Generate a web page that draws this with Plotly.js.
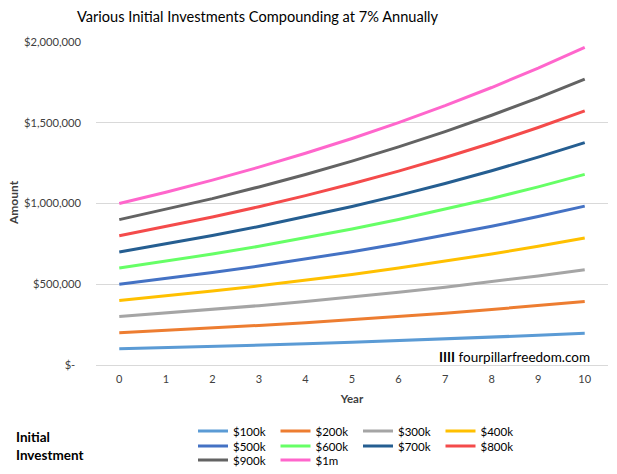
<!DOCTYPE html>
<html>
<head>
<meta charset="utf-8">
<script src="https://cdn.plot.ly/plotly-3.0.1.min.js"></script>
<style>html,body{margin:0;padding:0;background:#fff;}#chart{width:617px;height:474px;}</style>
</head>
<body>
<div id="chart"></div>
<script>
const years = [0,1,2,3,4,5,6,7,8,9,10];
const seriesNames = ["$100k","$200k","$300k","$400k","$500k","$600k","$700k","$800k","$900k","$1m"];
const s100k = [100000,107000,114490,122504,131080,140255,150073,160578,171819,183846,196715];
const s200k = [200000,214000,228980,245009,262159,280510,300146,321156,343637,367692,393430];
const s300k = [300000,321000,343470,367513,393239,420766,450219,481734,515456,551538,590145];
const s400k = [400000,428000,457960,490017,524318,561021,600292,642313,687274,735384,786861];
const s500k = [500000,535000,572450,612522,655398,701276,750365,802891,859093,919230,983576];
const s600k = [600000,642000,686940,735026,786478,841531,900438,963469,1030912,1103076,1180291];
const s700k = [700000,749000,801430,857530,917557,981786,1050511,1124047,1202730,1286921,1377006];
const s800k = [800000,856000,915920,980034,1048637,1122041,1200584,1284625,1374549,1470767,1573721];
const s900k = [900000,963000,1030410,1102539,1179716,1262297,1350657,1445203,1546368,1654613,1770436];
const s1m   = [1000000,1070000,1144900,1225043,1310796,1402552,1500730,1605781,1718186,1838459,1967151];
const seriesValues = [s100k,s200k,s300k,s400k,s500k,s600k,s700k,s800k,s900k,s1m];
const colors = ["#5B9BD5","#ED7D31","#A5A5A5","#FFC000","#4472C4","#66FF66","#255E91","#F44B4B","#636363","#FF66CC"];
const yTickVals = [0,500000,1000000,1500000,2000000];
const yTickText = ["$-\u00A0\u00A0","$500,000","$1,000,000","$1,500,000","$2,000,000"];

const FONT = "Lato, 'Open Sans', sans-serif";
const legendIds = ['legend','legend','legend','legend','legend2','legend2','legend2','legend2','legend3','legend3'];
const traces = seriesNames.map((n,i)=>({
  x: years, y: seriesValues[i], name: n, type: 'scatter', mode: 'lines',
  line: {color: colors[i], width: 3}, legend: legendIds[i]
}));

function legendAt(yPx) {
  return {
    orientation: 'h', xref: 'container', yref: 'container',
    x: 193/617, xanchor: 'left', y: 1 - yPx/474, yanchor: 'middle',
    entrywidth: 37.5, entrywidthmode: 'pixels', traceorder: 'normal',
    font: {family: FONT, size: 11.5, color: '#000'}, bgcolor: 'rgba(0,0,0,0)', borderwidth: 0
  };
}

const layout = {
  width: 617, height: 474,
  margin: {l: 96, r: 9, t: 42, b: 109},
  paper_bgcolor: '#fff', plot_bgcolor: '#fff',
  font: {family: FONT, color: '#595959', size: 11},
  title: {text: 'Various Initial Investments Compounding at 7% Annually', font: {family: FONT, size: 14.6, color: '#000'}, x: 257.5/617, xanchor: 'center', xref: 'container', y: 1 - 17/474, yanchor: 'middle', yref: 'container'},
  xaxis: {
    range: [-0.5, 10.5], tickvals: years, ticktext: years.map(String),
    showgrid: false, zeroline: false, showline: true, linecolor: '#D9D9D9', linewidth: 1,
    ticks: '', tickfont: {family: FONT, size: 11, color: '#404040'}, ticklabelstandoff: 4,
    title: {text: '<b>Year</b>', font: {family: FONT, size: 11.5, color: '#404040'}, standoff: 10}
  },
  yaxis: {
    range: [0, 2000000], tickvals: yTickVals, ticktext: yTickText,
    showgrid: true, gridcolor: '#D9D9D9', zeroline: false, showline: false, ticks: '',
    tickfont: {family: FONT, size: 11.2, color: '#404040'}, ticklabelstandoff: 14
  },
  showlegend: true,
  legend: legendAt(431),
  legend2: legendAt(446),
  legend3: legendAt(460),
  annotations: [
    {text: '<b>Amount</b>', xref: 'paper', yref: 'paper', x: (13-96)/512, y: (365-203)/323, xanchor: 'center', yanchor: 'middle', textangle: -90, showarrow: false, font: {family: FONT, size: 12, color: '#404040'}},
    {text: '<b>Initial<br>Investment</b>', xref: 'paper', yref: 'paper', x: (14-96)/512, y: (365-446)/323, xanchor: 'left', yanchor: 'middle', showarrow: false, align: 'left', font: {family: FONT, size: 13.5, color: '#000'}},
    {text: '<b>IIII</b> fourpillarfreedom.com', xref: 'paper', yref: 'paper', x: (592-96)/512, y: (365-357)/323, xanchor: 'right', yanchor: 'middle', showarrow: false, font: {family: FONT, size: 13.5, color: '#000'}}
  ]
};
Plotly.newPlot('chart', traces, layout, {displayModeBar: false, staticPlot: true});
</script>
</body>
</html>
